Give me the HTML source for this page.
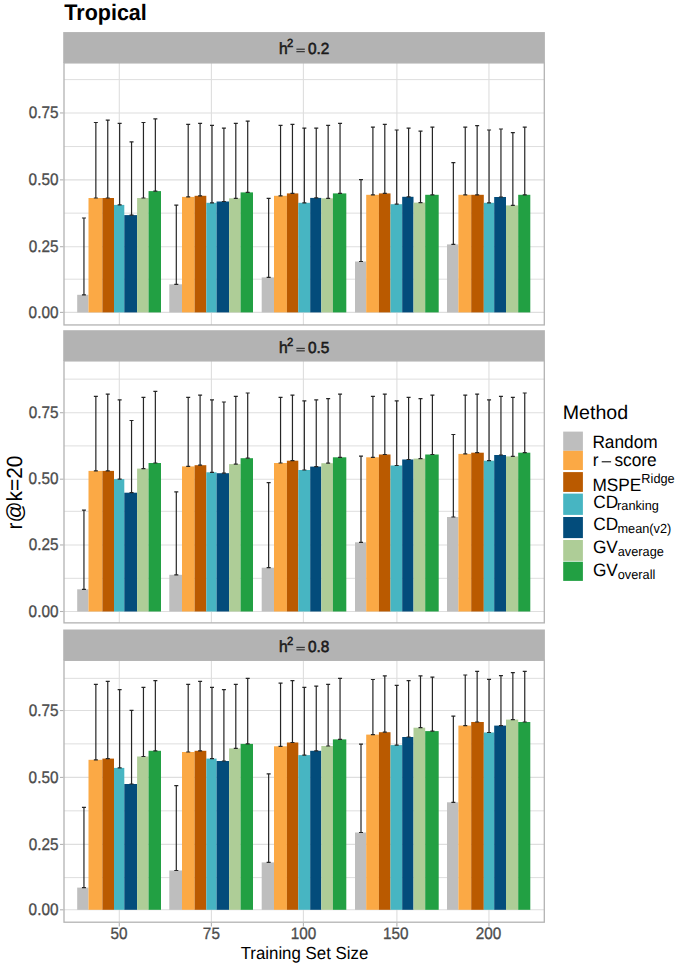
<!DOCTYPE html>
<html><head><meta charset="utf-8"><style>
html,body{margin:0;padding:0;background:#fff;}
svg{display:block;} text{text-rendering:geometricPrecision;}
</style></head><body>
<svg width="685" height="968" viewBox="0 0 685 968">
<rect x="0" y="0" width="685" height="968" fill="#FFFFFF"/>
<rect x="63.2" y="32.07" width="481.70" height="30.83" fill="#B3B3B3"/>
<line x1="64.0" x2="544.3" y1="279.20" y2="279.20" stroke="#DEDEDE" stroke-width="1"/>
<line x1="64.0" x2="544.3" y1="213.13" y2="213.13" stroke="#DEDEDE" stroke-width="1"/>
<line x1="64.0" x2="544.3" y1="146.55" y2="146.55" stroke="#DEDEDE" stroke-width="1"/>
<line x1="64.0" x2="544.3" y1="79.60" y2="79.60" stroke="#DEDEDE" stroke-width="1"/>
<line x1="64.0" x2="544.3" y1="312.40" y2="312.40" stroke="#DEDEDE" stroke-width="1.1"/>
<line x1="64.0" x2="544.3" y1="246.70" y2="246.70" stroke="#DEDEDE" stroke-width="1.1"/>
<line x1="64.0" x2="544.3" y1="179.86" y2="179.86" stroke="#DEDEDE" stroke-width="1.1"/>
<line x1="64.0" x2="544.3" y1="112.95" y2="112.95" stroke="#DEDEDE" stroke-width="1.1"/>
<line x1="119.30" x2="119.30" y1="62.9" y2="324.95" stroke="#DEDEDE" stroke-width="1.1"/>
<line x1="211.40" x2="211.40" y1="62.9" y2="324.95" stroke="#DEDEDE" stroke-width="1.1"/>
<line x1="303.40" x2="303.40" y1="62.9" y2="324.95" stroke="#DEDEDE" stroke-width="1.1"/>
<line x1="396.90" x2="396.90" y1="62.9" y2="324.95" stroke="#DEDEDE" stroke-width="1.1"/>
<line x1="488.95" x2="488.95" y1="62.9" y2="324.95" stroke="#DEDEDE" stroke-width="1.1"/>
<rect x="77.20" y="294.80" width="11.30" height="17.60" fill="#BEBEBE"/>
<rect x="88.50" y="198.00" width="13.90" height="114.40" fill="#FBA945"/>
<rect x="102.40" y="198.00" width="11.60" height="114.40" fill="#BA5A00"/>
<rect x="114.00" y="204.90" width="10.30" height="107.50" fill="#47B5C2"/>
<rect x="124.30" y="215.10" width="12.80" height="97.30" fill="#034C7B"/>
<rect x="137.10" y="198.00" width="11.45" height="114.40" fill="#AECD97"/>
<rect x="148.55" y="191.10" width="12.45" height="121.30" fill="#22A043"/>
<rect x="169.30" y="284.30" width="12.70" height="28.10" fill="#BEBEBE"/>
<rect x="182.00" y="196.90" width="12.60" height="115.50" fill="#FBA945"/>
<rect x="194.60" y="195.80" width="11.70" height="116.60" fill="#BA5A00"/>
<rect x="206.30" y="202.80" width="10.30" height="109.60" fill="#47B5C2"/>
<rect x="216.60" y="201.50" width="12.50" height="110.90" fill="#034C7B"/>
<rect x="229.10" y="198.30" width="11.50" height="114.10" fill="#AECD97"/>
<rect x="240.60" y="192.40" width="12.40" height="120.00" fill="#22A043"/>
<rect x="261.70" y="277.40" width="12.30" height="35.00" fill="#BEBEBE"/>
<rect x="274.00" y="195.80" width="12.90" height="116.60" fill="#FBA945"/>
<rect x="286.90" y="193.40" width="11.40" height="119.00" fill="#BA5A00"/>
<rect x="298.30" y="202.80" width="11.90" height="109.60" fill="#47B5C2"/>
<rect x="310.20" y="197.90" width="11.10" height="114.50" fill="#034C7B"/>
<rect x="321.30" y="198.30" width="11.60" height="114.10" fill="#AECD97"/>
<rect x="332.90" y="193.40" width="13.40" height="119.00" fill="#22A043"/>
<rect x="355.00" y="261.50" width="11.20" height="50.90" fill="#BEBEBE"/>
<rect x="366.20" y="194.80" width="12.70" height="117.60" fill="#FBA945"/>
<rect x="378.90" y="193.40" width="11.60" height="119.00" fill="#BA5A00"/>
<rect x="390.50" y="204.20" width="11.70" height="108.20" fill="#47B5C2"/>
<rect x="402.20" y="196.80" width="11.30" height="115.60" fill="#034C7B"/>
<rect x="413.50" y="202.60" width="11.70" height="109.80" fill="#AECD97"/>
<rect x="425.20" y="194.80" width="13.50" height="117.60" fill="#22A043"/>
<rect x="447.00" y="244.40" width="11.40" height="68.00" fill="#BEBEBE"/>
<rect x="458.40" y="194.80" width="12.80" height="117.60" fill="#FBA945"/>
<rect x="471.20" y="194.80" width="12.60" height="117.60" fill="#BA5A00"/>
<rect x="483.80" y="202.80" width="10.40" height="109.60" fill="#47B5C2"/>
<rect x="494.20" y="197.00" width="11.80" height="115.40" fill="#034C7B"/>
<rect x="506.00" y="205.40" width="12.20" height="107.00" fill="#AECD97"/>
<rect x="518.20" y="194.80" width="12.10" height="117.60" fill="#22A043"/>
<path d="M83.95 294.80V218.00M81.95 218.00H85.95M81.95 294.80H85.95" stroke="#262626" stroke-width="1.2" fill="none"/>
<path d="M95.85 198.00V122.50M93.85 122.50H97.85M93.85 198.00H97.85" stroke="#262626" stroke-width="1.2" fill="none"/>
<path d="M107.75 198.00V120.10M105.75 120.10H109.75M105.75 198.00H109.75" stroke="#262626" stroke-width="1.2" fill="none"/>
<path d="M119.65 204.90V123.40M117.65 123.40H121.65M117.65 204.90H121.65" stroke="#262626" stroke-width="1.2" fill="none"/>
<path d="M131.55 215.10V141.80M129.55 141.80H133.55M129.55 215.10H133.55" stroke="#262626" stroke-width="1.2" fill="none"/>
<path d="M143.45 198.00V122.50M141.45 122.50H145.45M141.45 198.00H145.45" stroke="#262626" stroke-width="1.2" fill="none"/>
<path d="M155.35 191.10V118.90M153.35 118.90H157.35M153.35 191.10H157.35" stroke="#262626" stroke-width="1.2" fill="none"/>
<path d="M176.30 284.30V205.20M174.30 205.20H178.30M174.30 284.30H178.30" stroke="#262626" stroke-width="1.2" fill="none"/>
<path d="M188.20 196.90V124.30M186.20 124.30H190.20M186.20 196.90H190.20" stroke="#262626" stroke-width="1.2" fill="none"/>
<path d="M200.10 195.80V123.30M198.10 123.30H202.10M198.10 195.80H202.10" stroke="#262626" stroke-width="1.2" fill="none"/>
<path d="M212.00 202.80V125.30M210.00 125.30H214.00M210.00 202.80H214.00" stroke="#262626" stroke-width="1.2" fill="none"/>
<path d="M223.90 201.50V128.10M221.90 128.10H225.90M221.90 201.50H225.90" stroke="#262626" stroke-width="1.2" fill="none"/>
<path d="M235.80 198.30V123.30M233.80 123.30H237.80M233.80 198.30H237.80" stroke="#262626" stroke-width="1.2" fill="none"/>
<path d="M247.70 192.40V121.20M245.70 121.20H249.70M245.70 192.40H249.70" stroke="#262626" stroke-width="1.2" fill="none"/>
<path d="M268.65 277.40V198.30M266.65 198.30H270.65M266.65 277.40H270.65" stroke="#262626" stroke-width="1.2" fill="none"/>
<path d="M280.55 195.80V125.30M278.55 125.30H282.55M278.55 195.80H282.55" stroke="#262626" stroke-width="1.2" fill="none"/>
<path d="M292.45 193.40V124.30M290.45 124.30H294.45M290.45 193.40H294.45" stroke="#262626" stroke-width="1.2" fill="none"/>
<path d="M304.35 202.80V128.10M302.35 128.10H306.35M302.35 202.80H306.35" stroke="#262626" stroke-width="1.2" fill="none"/>
<path d="M316.25 197.90V128.10M314.25 128.10H318.25M314.25 197.90H318.25" stroke="#262626" stroke-width="1.2" fill="none"/>
<path d="M328.15 198.30V125.30M326.15 125.30H330.15M326.15 198.30H330.15" stroke="#262626" stroke-width="1.2" fill="none"/>
<path d="M340.05 193.40V123.30M338.05 123.30H342.05M338.05 193.40H342.05" stroke="#262626" stroke-width="1.2" fill="none"/>
<path d="M361.00 261.50V179.70M359.00 179.70H363.00M359.00 261.50H363.00" stroke="#262626" stroke-width="1.2" fill="none"/>
<path d="M372.90 194.80V127.10M370.90 127.10H374.90M370.90 194.80H374.90" stroke="#262626" stroke-width="1.2" fill="none"/>
<path d="M384.80 193.40V124.30M382.80 124.30H386.80M382.80 193.40H386.80" stroke="#262626" stroke-width="1.2" fill="none"/>
<path d="M396.70 204.20V130.00M394.70 130.00H398.70M394.70 204.20H398.70" stroke="#262626" stroke-width="1.2" fill="none"/>
<path d="M408.60 196.80V128.10M406.60 128.10H410.60M406.60 196.80H410.60" stroke="#262626" stroke-width="1.2" fill="none"/>
<path d="M420.50 202.60V131.20M418.50 131.20H422.50M418.50 202.60H422.50" stroke="#262626" stroke-width="1.2" fill="none"/>
<path d="M432.40 194.80V127.10M430.40 127.10H434.40M430.40 194.80H434.40" stroke="#262626" stroke-width="1.2" fill="none"/>
<path d="M453.35 244.40V162.60M451.35 162.60H455.35M451.35 244.40H455.35" stroke="#262626" stroke-width="1.2" fill="none"/>
<path d="M465.25 194.80V127.10M463.25 127.10H467.25M463.25 194.80H467.25" stroke="#262626" stroke-width="1.2" fill="none"/>
<path d="M477.15 194.80V125.70M475.15 125.70H479.15M475.15 194.80H479.15" stroke="#262626" stroke-width="1.2" fill="none"/>
<path d="M489.05 202.80V130.00M487.05 130.00H491.05M487.05 202.80H491.05" stroke="#262626" stroke-width="1.2" fill="none"/>
<path d="M500.95 197.00V129.00M498.95 129.00H502.95M498.95 197.00H502.95" stroke="#262626" stroke-width="1.2" fill="none"/>
<path d="M512.85 205.40V132.60M510.85 132.60H514.85M510.85 205.40H514.85" stroke="#262626" stroke-width="1.2" fill="none"/>
<path d="M524.75 194.80V127.10M522.75 127.10H526.75M522.75 194.80H526.75" stroke="#262626" stroke-width="1.2" fill="none"/>
<rect x="64.0" y="62.9" width="480.30" height="262.05" fill="none" stroke="#B3B3B3" stroke-width="1.3"/>
<text transform="translate(279.12,53.80) scale(1,1.04)" font-family="&quot;Liberation Sans&quot;, sans-serif" font-size="15.6" fill="#1A1A1A" text-anchor="start" stroke="#1A1A1A" stroke-width="0.55">h</text>
<text transform="translate(287.04,46.60) scale(1,1.04)" font-family="&quot;Liberation Sans&quot;, sans-serif" font-size="11.2" fill="#1A1A1A" text-anchor="start" stroke="#1A1A1A" stroke-width="0.55">2</text>
<rect x="296.4" y="48.60" width="8.4" height="1.25" fill="#1A1A1A" opacity="0.8"/>
<rect x="296.4" y="51.00" width="8.4" height="1.25" fill="#1A1A1A" opacity="0.8"/>
<text transform="translate(307.90,53.80) scale(1,1.04)" font-family="&quot;Liberation Sans&quot;, sans-serif" font-size="15.4" fill="#1A1A1A" text-anchor="start" stroke="#1A1A1A" stroke-width="0.55">0.2</text>
<line x1="60" x2="63.5" y1="312.40" y2="312.40" stroke="#B3B3B3" stroke-width="1.1"/>
<text transform="translate(28.62,317.50) scale(1,1.09)" font-family="&quot;Liberation Sans&quot;, sans-serif" font-size="15.3" fill="#4D4D4D" text-anchor="start" stroke="#4D4D4D" stroke-width="0.3">0.00</text>
<line x1="60" x2="63.5" y1="246.70" y2="246.70" stroke="#B3B3B3" stroke-width="1.1"/>
<text transform="translate(28.66,251.80) scale(1,1.09)" font-family="&quot;Liberation Sans&quot;, sans-serif" font-size="15.3" fill="#4D4D4D" text-anchor="start" stroke="#4D4D4D" stroke-width="0.3">0.25</text>
<line x1="60" x2="63.5" y1="179.86" y2="179.86" stroke="#B3B3B3" stroke-width="1.1"/>
<text transform="translate(28.62,184.96) scale(1,1.09)" font-family="&quot;Liberation Sans&quot;, sans-serif" font-size="15.3" fill="#4D4D4D" text-anchor="start" stroke="#4D4D4D" stroke-width="0.3">0.50</text>
<line x1="60" x2="63.5" y1="112.95" y2="112.95" stroke="#B3B3B3" stroke-width="1.1"/>
<text transform="translate(28.66,118.05) scale(1,1.09)" font-family="&quot;Liberation Sans&quot;, sans-serif" font-size="15.3" fill="#4D4D4D" text-anchor="start" stroke="#4D4D4D" stroke-width="0.3">0.75</text>
<rect x="63.2" y="330.2" width="481.70" height="30.70" fill="#B3B3B3"/>
<line x1="64.0" x2="544.3" y1="578.30" y2="578.30" stroke="#DEDEDE" stroke-width="1"/>
<line x1="64.0" x2="544.3" y1="511.30" y2="511.30" stroke="#DEDEDE" stroke-width="1"/>
<line x1="64.0" x2="544.3" y1="445.90" y2="445.90" stroke="#DEDEDE" stroke-width="1"/>
<line x1="64.0" x2="544.3" y1="379.13" y2="379.13" stroke="#DEDEDE" stroke-width="1"/>
<line x1="64.0" x2="544.3" y1="611.50" y2="611.50" stroke="#DEDEDE" stroke-width="1.1"/>
<line x1="64.0" x2="544.3" y1="544.96" y2="544.96" stroke="#DEDEDE" stroke-width="1.1"/>
<line x1="64.0" x2="544.3" y1="479.20" y2="479.20" stroke="#DEDEDE" stroke-width="1.1"/>
<line x1="64.0" x2="544.3" y1="412.70" y2="412.70" stroke="#DEDEDE" stroke-width="1.1"/>
<line x1="119.30" x2="119.30" y1="360.9" y2="622.87" stroke="#DEDEDE" stroke-width="1.1"/>
<line x1="211.40" x2="211.40" y1="360.9" y2="622.87" stroke="#DEDEDE" stroke-width="1.1"/>
<line x1="303.40" x2="303.40" y1="360.9" y2="622.87" stroke="#DEDEDE" stroke-width="1.1"/>
<line x1="396.90" x2="396.90" y1="360.9" y2="622.87" stroke="#DEDEDE" stroke-width="1.1"/>
<line x1="488.95" x2="488.95" y1="360.9" y2="622.87" stroke="#DEDEDE" stroke-width="1.1"/>
<rect x="77.20" y="589.30" width="11.30" height="22.20" fill="#BEBEBE"/>
<rect x="88.50" y="470.90" width="13.90" height="140.60" fill="#FBA945"/>
<rect x="102.40" y="470.90" width="11.60" height="140.60" fill="#BA5A00"/>
<rect x="114.00" y="479.10" width="10.30" height="132.40" fill="#47B5C2"/>
<rect x="124.30" y="492.70" width="12.80" height="118.80" fill="#034C7B"/>
<rect x="137.10" y="468.60" width="11.45" height="142.90" fill="#AECD97"/>
<rect x="148.55" y="463.00" width="12.45" height="148.50" fill="#22A043"/>
<rect x="169.30" y="574.80" width="12.70" height="36.70" fill="#BEBEBE"/>
<rect x="182.00" y="466.40" width="12.60" height="145.10" fill="#FBA945"/>
<rect x="194.60" y="465.20" width="11.70" height="146.30" fill="#BA5A00"/>
<rect x="206.30" y="472.30" width="10.30" height="139.20" fill="#47B5C2"/>
<rect x="216.60" y="473.20" width="12.50" height="138.30" fill="#034C7B"/>
<rect x="229.10" y="464.10" width="11.50" height="147.40" fill="#AECD97"/>
<rect x="240.60" y="458.20" width="12.40" height="153.30" fill="#22A043"/>
<rect x="261.70" y="567.70" width="12.30" height="43.80" fill="#BEBEBE"/>
<rect x="274.00" y="463.00" width="12.90" height="148.50" fill="#FBA945"/>
<rect x="286.90" y="460.70" width="11.40" height="150.80" fill="#BA5A00"/>
<rect x="298.30" y="470.00" width="11.90" height="141.50" fill="#47B5C2"/>
<rect x="310.20" y="466.60" width="11.10" height="144.90" fill="#034C7B"/>
<rect x="321.30" y="463.20" width="11.60" height="148.30" fill="#AECD97"/>
<rect x="332.90" y="457.30" width="13.40" height="154.20" fill="#22A043"/>
<rect x="355.00" y="542.30" width="11.20" height="69.20" fill="#BEBEBE"/>
<rect x="366.20" y="457.30" width="12.70" height="154.20" fill="#FBA945"/>
<rect x="378.90" y="454.50" width="11.60" height="157.00" fill="#BA5A00"/>
<rect x="390.50" y="465.50" width="11.70" height="146.00" fill="#47B5C2"/>
<rect x="402.20" y="459.50" width="11.30" height="152.00" fill="#034C7B"/>
<rect x="413.50" y="458.60" width="11.70" height="152.90" fill="#AECD97"/>
<rect x="425.20" y="454.50" width="13.50" height="157.00" fill="#22A043"/>
<rect x="447.00" y="517.00" width="11.40" height="94.50" fill="#BEBEBE"/>
<rect x="458.40" y="453.90" width="12.80" height="157.60" fill="#FBA945"/>
<rect x="471.20" y="452.70" width="12.60" height="158.80" fill="#BA5A00"/>
<rect x="483.80" y="460.70" width="10.40" height="150.80" fill="#47B5C2"/>
<rect x="494.20" y="455.00" width="11.80" height="156.50" fill="#034C7B"/>
<rect x="506.00" y="456.40" width="12.20" height="155.10" fill="#AECD97"/>
<rect x="518.20" y="452.70" width="12.10" height="158.80" fill="#22A043"/>
<path d="M83.95 589.30V510.20M81.95 510.20H85.95M81.95 589.30H85.95" stroke="#262626" stroke-width="1.2" fill="none"/>
<path d="M95.85 470.90V396.40M93.85 396.40H97.85M93.85 470.90H97.85" stroke="#262626" stroke-width="1.2" fill="none"/>
<path d="M107.75 470.90V394.10M105.75 394.10H109.75M105.75 470.90H109.75" stroke="#262626" stroke-width="1.2" fill="none"/>
<path d="M119.65 479.10V399.80M117.65 399.80H121.65M117.65 479.10H121.65" stroke="#262626" stroke-width="1.2" fill="none"/>
<path d="M131.55 492.70V420.50M129.55 420.50H133.55M129.55 492.70H133.55" stroke="#262626" stroke-width="1.2" fill="none"/>
<path d="M143.45 468.60V397.30M141.45 397.30H145.45M141.45 468.60H145.45" stroke="#262626" stroke-width="1.2" fill="none"/>
<path d="M155.35 463.00V391.40M153.35 391.40H157.35M153.35 463.00H157.35" stroke="#262626" stroke-width="1.2" fill="none"/>
<path d="M176.30 574.80V491.80M174.30 491.80H178.30M174.30 574.80H178.30" stroke="#262626" stroke-width="1.2" fill="none"/>
<path d="M188.20 466.40V397.30M186.20 397.30H190.20M186.20 466.40H190.20" stroke="#262626" stroke-width="1.2" fill="none"/>
<path d="M200.10 465.20V395.20M198.10 395.20H202.10M198.10 465.20H202.10" stroke="#262626" stroke-width="1.2" fill="none"/>
<path d="M212.00 472.30V399.80M210.00 399.80H214.00M210.00 472.30H214.00" stroke="#262626" stroke-width="1.2" fill="none"/>
<path d="M223.90 473.20V402.00M221.90 402.00H225.90M221.90 473.20H225.90" stroke="#262626" stroke-width="1.2" fill="none"/>
<path d="M235.80 464.10V396.40M233.80 396.40H237.80M233.80 464.10H237.80" stroke="#262626" stroke-width="1.2" fill="none"/>
<path d="M247.70 458.20V393.00M245.70 393.00H249.70M245.70 458.20H249.70" stroke="#262626" stroke-width="1.2" fill="none"/>
<path d="M268.65 567.70V482.70M266.65 482.70H270.65M266.65 567.70H270.65" stroke="#262626" stroke-width="1.2" fill="none"/>
<path d="M280.55 463.00V397.30M278.55 397.30H282.55M278.55 463.00H282.55" stroke="#262626" stroke-width="1.2" fill="none"/>
<path d="M292.45 460.70V395.20M290.45 395.20H294.45M290.45 460.70H294.45" stroke="#262626" stroke-width="1.2" fill="none"/>
<path d="M304.35 470.00V400.90M302.35 400.90H306.35M302.35 470.00H306.35" stroke="#262626" stroke-width="1.2" fill="none"/>
<path d="M316.25 466.60V399.80M314.25 399.80H318.25M314.25 466.60H318.25" stroke="#262626" stroke-width="1.2" fill="none"/>
<path d="M328.15 463.20V398.60M326.15 398.60H330.15M326.15 463.20H330.15" stroke="#262626" stroke-width="1.2" fill="none"/>
<path d="M340.05 457.30V394.10M338.05 394.10H342.05M338.05 457.30H342.05" stroke="#262626" stroke-width="1.2" fill="none"/>
<path d="M361.00 542.30V456.10M359.00 456.10H363.00M359.00 542.30H363.00" stroke="#262626" stroke-width="1.2" fill="none"/>
<path d="M372.90 457.30V396.40M370.90 396.40H374.90M370.90 457.30H374.90" stroke="#262626" stroke-width="1.2" fill="none"/>
<path d="M384.80 454.50V394.10M382.80 394.10H386.80M382.80 454.50H386.80" stroke="#262626" stroke-width="1.2" fill="none"/>
<path d="M396.70 465.50V400.90M394.70 400.90H398.70M394.70 465.50H398.70" stroke="#262626" stroke-width="1.2" fill="none"/>
<path d="M408.60 459.50V397.30M406.60 397.30H410.60M406.60 459.50H410.60" stroke="#262626" stroke-width="1.2" fill="none"/>
<path d="M420.50 458.60V398.60M418.50 398.60H422.50M418.50 458.60H422.50" stroke="#262626" stroke-width="1.2" fill="none"/>
<path d="M432.40 454.50V395.20M430.40 395.20H434.40M430.40 454.50H434.40" stroke="#262626" stroke-width="1.2" fill="none"/>
<path d="M453.35 517.00V434.50M451.35 434.50H455.35M451.35 517.00H455.35" stroke="#262626" stroke-width="1.2" fill="none"/>
<path d="M465.25 453.90V395.20M463.25 395.20H467.25M463.25 453.90H467.25" stroke="#262626" stroke-width="1.2" fill="none"/>
<path d="M477.15 452.70V394.10M475.15 394.10H479.15M475.15 452.70H479.15" stroke="#262626" stroke-width="1.2" fill="none"/>
<path d="M489.05 460.70V399.80M487.05 399.80H491.05M487.05 460.70H491.05" stroke="#262626" stroke-width="1.2" fill="none"/>
<path d="M500.95 455.00V396.40M498.95 396.40H502.95M498.95 455.00H502.95" stroke="#262626" stroke-width="1.2" fill="none"/>
<path d="M512.85 456.40V397.30M510.85 397.30H514.85M510.85 456.40H514.85" stroke="#262626" stroke-width="1.2" fill="none"/>
<path d="M524.75 452.70V393.00M522.75 393.00H526.75M522.75 452.70H526.75" stroke="#262626" stroke-width="1.2" fill="none"/>
<rect x="64.0" y="360.9" width="480.30" height="261.97" fill="none" stroke="#B3B3B3" stroke-width="1.3"/>
<text transform="translate(279.12,353.00) scale(1,1.04)" font-family="&quot;Liberation Sans&quot;, sans-serif" font-size="15.6" fill="#1A1A1A" text-anchor="start" stroke="#1A1A1A" stroke-width="0.55">h</text>
<text transform="translate(287.04,345.80) scale(1,1.04)" font-family="&quot;Liberation Sans&quot;, sans-serif" font-size="11.2" fill="#1A1A1A" text-anchor="start" stroke="#1A1A1A" stroke-width="0.55">2</text>
<rect x="296.4" y="347.80" width="8.4" height="1.25" fill="#1A1A1A" opacity="0.8"/>
<rect x="296.4" y="350.20" width="8.4" height="1.25" fill="#1A1A1A" opacity="0.8"/>
<text transform="translate(307.90,353.00) scale(1,1.04)" font-family="&quot;Liberation Sans&quot;, sans-serif" font-size="15.4" fill="#1A1A1A" text-anchor="start" stroke="#1A1A1A" stroke-width="0.55">0.5</text>
<line x1="60" x2="63.5" y1="611.50" y2="611.50" stroke="#B3B3B3" stroke-width="1.1"/>
<text transform="translate(28.62,616.60) scale(1,1.09)" font-family="&quot;Liberation Sans&quot;, sans-serif" font-size="15.3" fill="#4D4D4D" text-anchor="start" stroke="#4D4D4D" stroke-width="0.3">0.00</text>
<line x1="60" x2="63.5" y1="544.96" y2="544.96" stroke="#B3B3B3" stroke-width="1.1"/>
<text transform="translate(28.66,550.06) scale(1,1.09)" font-family="&quot;Liberation Sans&quot;, sans-serif" font-size="15.3" fill="#4D4D4D" text-anchor="start" stroke="#4D4D4D" stroke-width="0.3">0.25</text>
<line x1="60" x2="63.5" y1="479.20" y2="479.20" stroke="#B3B3B3" stroke-width="1.1"/>
<text transform="translate(28.62,484.30) scale(1,1.09)" font-family="&quot;Liberation Sans&quot;, sans-serif" font-size="15.3" fill="#4D4D4D" text-anchor="start" stroke="#4D4D4D" stroke-width="0.3">0.50</text>
<line x1="60" x2="63.5" y1="412.70" y2="412.70" stroke="#B3B3B3" stroke-width="1.1"/>
<text transform="translate(28.66,417.80) scale(1,1.09)" font-family="&quot;Liberation Sans&quot;, sans-serif" font-size="15.3" fill="#4D4D4D" text-anchor="start" stroke="#4D4D4D" stroke-width="0.3">0.75</text>
<rect x="63.2" y="629.5" width="481.70" height="30.80" fill="#B3B3B3"/>
<line x1="64.0" x2="544.3" y1="877.60" y2="877.60" stroke="#DEDEDE" stroke-width="1"/>
<line x1="64.0" x2="544.3" y1="810.85" y2="810.85" stroke="#DEDEDE" stroke-width="1"/>
<line x1="64.0" x2="544.3" y1="743.86" y2="743.86" stroke="#DEDEDE" stroke-width="1"/>
<line x1="64.0" x2="544.3" y1="678.33" y2="678.33" stroke="#DEDEDE" stroke-width="1"/>
<line x1="64.0" x2="544.3" y1="909.80" y2="909.80" stroke="#DEDEDE" stroke-width="1.1"/>
<line x1="64.0" x2="544.3" y1="844.40" y2="844.40" stroke="#DEDEDE" stroke-width="1.1"/>
<line x1="64.0" x2="544.3" y1="777.40" y2="777.40" stroke="#DEDEDE" stroke-width="1.1"/>
<line x1="64.0" x2="544.3" y1="710.56" y2="710.56" stroke="#DEDEDE" stroke-width="1.1"/>
<line x1="119.30" x2="119.30" y1="660.3" y2="922.2" stroke="#DEDEDE" stroke-width="1.1"/>
<line x1="211.40" x2="211.40" y1="660.3" y2="922.2" stroke="#DEDEDE" stroke-width="1.1"/>
<line x1="303.40" x2="303.40" y1="660.3" y2="922.2" stroke="#DEDEDE" stroke-width="1.1"/>
<line x1="396.90" x2="396.90" y1="660.3" y2="922.2" stroke="#DEDEDE" stroke-width="1.1"/>
<line x1="488.95" x2="488.95" y1="660.3" y2="922.2" stroke="#DEDEDE" stroke-width="1.1"/>
<rect x="77.20" y="887.60" width="11.30" height="22.20" fill="#BEBEBE"/>
<rect x="88.50" y="759.80" width="13.90" height="150.00" fill="#FBA945"/>
<rect x="102.40" y="758.60" width="11.60" height="151.20" fill="#BA5A00"/>
<rect x="114.00" y="767.90" width="10.30" height="141.90" fill="#47B5C2"/>
<rect x="124.30" y="784.00" width="12.80" height="125.80" fill="#034C7B"/>
<rect x="137.10" y="756.50" width="11.45" height="153.30" fill="#AECD97"/>
<rect x="148.55" y="750.80" width="12.45" height="159.00" fill="#22A043"/>
<rect x="169.30" y="870.50" width="12.70" height="39.30" fill="#BEBEBE"/>
<rect x="182.00" y="752.00" width="12.60" height="157.80" fill="#FBA945"/>
<rect x="194.60" y="750.80" width="11.70" height="159.00" fill="#BA5A00"/>
<rect x="206.30" y="758.60" width="10.30" height="151.20" fill="#47B5C2"/>
<rect x="216.60" y="761.00" width="12.50" height="148.80" fill="#034C7B"/>
<rect x="229.10" y="748.40" width="11.50" height="161.40" fill="#AECD97"/>
<rect x="240.60" y="743.90" width="12.40" height="165.90" fill="#22A043"/>
<rect x="261.70" y="862.40" width="12.30" height="47.40" fill="#BEBEBE"/>
<rect x="274.00" y="746.30" width="12.90" height="163.50" fill="#FBA945"/>
<rect x="286.90" y="742.50" width="11.40" height="167.30" fill="#BA5A00"/>
<rect x="298.30" y="755.10" width="11.90" height="154.70" fill="#47B5C2"/>
<rect x="310.20" y="750.80" width="11.10" height="159.00" fill="#034C7B"/>
<rect x="321.30" y="746.00" width="11.60" height="163.80" fill="#AECD97"/>
<rect x="332.90" y="739.40" width="13.40" height="170.40" fill="#22A043"/>
<rect x="355.00" y="832.50" width="11.20" height="77.30" fill="#BEBEBE"/>
<rect x="366.20" y="734.60" width="12.70" height="175.20" fill="#FBA945"/>
<rect x="378.90" y="732.20" width="11.60" height="177.60" fill="#BA5A00"/>
<rect x="390.50" y="745.10" width="11.70" height="164.70" fill="#47B5C2"/>
<rect x="402.20" y="737.00" width="11.30" height="172.80" fill="#034C7B"/>
<rect x="413.50" y="727.70" width="11.70" height="182.10" fill="#AECD97"/>
<rect x="425.20" y="731.10" width="13.50" height="178.70" fill="#22A043"/>
<rect x="447.00" y="802.30" width="11.40" height="107.50" fill="#BEBEBE"/>
<rect x="458.40" y="725.60" width="12.80" height="184.20" fill="#FBA945"/>
<rect x="471.20" y="722.00" width="12.60" height="187.80" fill="#BA5A00"/>
<rect x="483.80" y="732.50" width="10.40" height="177.30" fill="#47B5C2"/>
<rect x="494.20" y="725.60" width="11.80" height="184.20" fill="#034C7B"/>
<rect x="506.00" y="719.60" width="12.20" height="190.20" fill="#AECD97"/>
<rect x="518.20" y="722.00" width="12.10" height="187.80" fill="#22A043"/>
<path d="M83.95 887.60V807.30M81.95 807.30H85.95M81.95 887.60H85.95" stroke="#262626" stroke-width="1.2" fill="none"/>
<path d="M95.85 759.80V684.30M93.85 684.30H97.85M93.85 759.80H97.85" stroke="#262626" stroke-width="1.2" fill="none"/>
<path d="M107.75 758.60V681.40M105.75 681.40H109.75M105.75 758.60H109.75" stroke="#262626" stroke-width="1.2" fill="none"/>
<path d="M119.65 767.90V689.70M117.65 689.70H121.65M117.65 767.90H121.65" stroke="#262626" stroke-width="1.2" fill="none"/>
<path d="M131.55 784.00V710.40M129.55 710.40H133.55M129.55 784.00H133.55" stroke="#262626" stroke-width="1.2" fill="none"/>
<path d="M143.45 756.50V687.30M141.45 687.30H145.45M141.45 756.50H145.45" stroke="#262626" stroke-width="1.2" fill="none"/>
<path d="M155.35 750.80V680.70M153.35 680.70H157.35M153.35 750.80H157.35" stroke="#262626" stroke-width="1.2" fill="none"/>
<path d="M176.30 870.50V785.70M174.30 785.70H178.30M174.30 870.50H178.30" stroke="#262626" stroke-width="1.2" fill="none"/>
<path d="M188.20 752.00V684.30M186.20 684.30H190.20M186.20 752.00H190.20" stroke="#262626" stroke-width="1.2" fill="none"/>
<path d="M200.10 750.80V681.40M198.10 681.40H202.10M198.10 750.80H202.10" stroke="#262626" stroke-width="1.2" fill="none"/>
<path d="M212.00 758.60V687.30M210.00 687.30H214.00M210.00 758.60H214.00" stroke="#262626" stroke-width="1.2" fill="none"/>
<path d="M223.90 761.00V689.70M221.90 689.70H225.90M221.90 761.00H225.90" stroke="#262626" stroke-width="1.2" fill="none"/>
<path d="M235.80 748.40V684.30M233.80 684.30H237.80M233.80 748.40H237.80" stroke="#262626" stroke-width="1.2" fill="none"/>
<path d="M247.70 743.90V678.30M245.70 678.30H249.70M245.70 743.90H249.70" stroke="#262626" stroke-width="1.2" fill="none"/>
<path d="M268.65 862.40V773.80M266.65 773.80H270.65M266.65 862.40H270.65" stroke="#262626" stroke-width="1.2" fill="none"/>
<path d="M280.55 746.30V683.10M278.55 683.10H282.55M278.55 746.30H282.55" stroke="#262626" stroke-width="1.2" fill="none"/>
<path d="M292.45 742.50V680.70M290.45 680.70H294.45M290.45 742.50H294.45" stroke="#262626" stroke-width="1.2" fill="none"/>
<path d="M304.35 755.10V687.30M302.35 687.30H306.35M302.35 755.10H306.35" stroke="#262626" stroke-width="1.2" fill="none"/>
<path d="M316.25 750.80V686.20M314.25 686.20H318.25M314.25 750.80H318.25" stroke="#262626" stroke-width="1.2" fill="none"/>
<path d="M328.15 746.00V684.30M326.15 684.30H330.15M326.15 746.00H330.15" stroke="#262626" stroke-width="1.2" fill="none"/>
<path d="M340.05 739.40V678.30M338.05 678.30H342.05M338.05 739.40H342.05" stroke="#262626" stroke-width="1.2" fill="none"/>
<path d="M361.00 832.50V744.10M359.00 744.10H363.00M359.00 832.50H363.00" stroke="#262626" stroke-width="1.2" fill="none"/>
<path d="M372.90 734.60V679.50M370.90 679.50H374.90M370.90 734.60H374.90" stroke="#262626" stroke-width="1.2" fill="none"/>
<path d="M384.80 732.20V675.90M382.80 675.90H386.80M382.80 732.20H386.80" stroke="#262626" stroke-width="1.2" fill="none"/>
<path d="M396.70 745.10V685.40M394.70 685.40H398.70M394.70 745.10H398.70" stroke="#262626" stroke-width="1.2" fill="none"/>
<path d="M408.60 737.00V680.70M406.60 680.70H410.60M406.60 737.00H410.60" stroke="#262626" stroke-width="1.2" fill="none"/>
<path d="M420.50 727.70V675.90M418.50 675.90H422.50M418.50 727.70H422.50" stroke="#262626" stroke-width="1.2" fill="none"/>
<path d="M432.40 731.10V677.10M430.40 677.10H434.40M430.40 731.10H434.40" stroke="#262626" stroke-width="1.2" fill="none"/>
<path d="M453.35 802.30V716.10M451.35 716.10H455.35M451.35 802.30H455.35" stroke="#262626" stroke-width="1.2" fill="none"/>
<path d="M465.25 725.60V675.00M463.25 675.00H467.25M463.25 725.60H467.25" stroke="#262626" stroke-width="1.2" fill="none"/>
<path d="M477.15 722.00V671.40M475.15 671.40H479.15M475.15 722.00H479.15" stroke="#262626" stroke-width="1.2" fill="none"/>
<path d="M489.05 732.50V679.30M487.05 679.30H491.05M487.05 732.50H491.05" stroke="#262626" stroke-width="1.2" fill="none"/>
<path d="M500.95 725.60V675.70M498.95 675.70H502.95M498.95 725.60H502.95" stroke="#262626" stroke-width="1.2" fill="none"/>
<path d="M512.85 719.60V672.60M510.85 672.60H514.85M510.85 719.60H514.85" stroke="#262626" stroke-width="1.2" fill="none"/>
<path d="M524.75 722.00V671.40M522.75 671.40H526.75M522.75 722.00H526.75" stroke="#262626" stroke-width="1.2" fill="none"/>
<rect x="64.0" y="660.3" width="480.30" height="261.90" fill="none" stroke="#B3B3B3" stroke-width="1.3"/>
<text transform="translate(279.12,652.00) scale(1,1.04)" font-family="&quot;Liberation Sans&quot;, sans-serif" font-size="15.6" fill="#1A1A1A" text-anchor="start" stroke="#1A1A1A" stroke-width="0.55">h</text>
<text transform="translate(287.04,644.80) scale(1,1.04)" font-family="&quot;Liberation Sans&quot;, sans-serif" font-size="11.2" fill="#1A1A1A" text-anchor="start" stroke="#1A1A1A" stroke-width="0.55">2</text>
<rect x="296.4" y="646.80" width="8.4" height="1.25" fill="#1A1A1A" opacity="0.8"/>
<rect x="296.4" y="649.20" width="8.4" height="1.25" fill="#1A1A1A" opacity="0.8"/>
<text transform="translate(307.90,652.00) scale(1,1.04)" font-family="&quot;Liberation Sans&quot;, sans-serif" font-size="15.4" fill="#1A1A1A" text-anchor="start" stroke="#1A1A1A" stroke-width="0.55">0.8</text>
<line x1="60" x2="63.5" y1="909.80" y2="909.80" stroke="#B3B3B3" stroke-width="1.1"/>
<text transform="translate(28.62,914.90) scale(1,1.09)" font-family="&quot;Liberation Sans&quot;, sans-serif" font-size="15.3" fill="#4D4D4D" text-anchor="start" stroke="#4D4D4D" stroke-width="0.3">0.00</text>
<line x1="60" x2="63.5" y1="844.40" y2="844.40" stroke="#B3B3B3" stroke-width="1.1"/>
<text transform="translate(28.66,849.50) scale(1,1.09)" font-family="&quot;Liberation Sans&quot;, sans-serif" font-size="15.3" fill="#4D4D4D" text-anchor="start" stroke="#4D4D4D" stroke-width="0.3">0.25</text>
<line x1="60" x2="63.5" y1="777.40" y2="777.40" stroke="#B3B3B3" stroke-width="1.1"/>
<text transform="translate(28.62,782.50) scale(1,1.09)" font-family="&quot;Liberation Sans&quot;, sans-serif" font-size="15.3" fill="#4D4D4D" text-anchor="start" stroke="#4D4D4D" stroke-width="0.3">0.50</text>
<line x1="60" x2="63.5" y1="710.56" y2="710.56" stroke="#B3B3B3" stroke-width="1.1"/>
<text transform="translate(28.66,715.66) scale(1,1.09)" font-family="&quot;Liberation Sans&quot;, sans-serif" font-size="15.3" fill="#4D4D4D" text-anchor="start" stroke="#4D4D4D" stroke-width="0.3">0.75</text>
<line x1="119.30" x2="119.30" y1="923" y2="926.5" stroke="#B3B3B3" stroke-width="1.1"/>
<text transform="translate(110.58,939.20) scale(1,1.08)" font-family="&quot;Liberation Sans&quot;, sans-serif" font-size="15.3" fill="#4D4D4D" text-anchor="start" stroke="#4D4D4D" stroke-width="0.3">50</text>
<line x1="211.40" x2="211.40" y1="923" y2="926.5" stroke="#B3B3B3" stroke-width="1.1"/>
<text transform="translate(202.87,939.20) scale(1,1.08)" font-family="&quot;Liberation Sans&quot;, sans-serif" font-size="15.3" fill="#4D4D4D" text-anchor="start" stroke="#4D4D4D" stroke-width="0.3">75</text>
<line x1="303.40" x2="303.40" y1="923" y2="926.5" stroke="#B3B3B3" stroke-width="1.1"/>
<text transform="translate(290.75,939.20) scale(1,1.08)" font-family="&quot;Liberation Sans&quot;, sans-serif" font-size="15.3" fill="#4D4D4D" text-anchor="start" stroke="#4D4D4D" stroke-width="0.3">100</text>
<line x1="396.90" x2="396.90" y1="923" y2="926.5" stroke="#B3B3B3" stroke-width="1.1"/>
<text transform="translate(383.10,939.20) scale(1,1.08)" font-family="&quot;Liberation Sans&quot;, sans-serif" font-size="15.3" fill="#4D4D4D" text-anchor="start" stroke="#4D4D4D" stroke-width="0.3">150</text>
<line x1="488.95" x2="488.95" y1="923" y2="926.5" stroke="#B3B3B3" stroke-width="1.1"/>
<text transform="translate(475.65,939.20) scale(1,1.08)" font-family="&quot;Liberation Sans&quot;, sans-serif" font-size="15.3" fill="#4D4D4D" text-anchor="start" stroke="#4D4D4D" stroke-width="0.3">200</text>
<text transform="translate(240.63,958.70) scale(1,1.04)" font-family="&quot;Liberation Sans&quot;, sans-serif" font-size="16.85" fill="#000" text-anchor="start">Training Set Size</text>
<text transform="translate(21.8,529.54) rotate(-90) scale(1,1.05)" font-family="&quot;Liberation Sans&quot;, sans-serif" font-size="20.85" fill="#000">r@k=20</text>
<text transform="translate(64.36,20.20) scale(1,1.04)" font-family="&quot;Liberation Sans&quot;, sans-serif" font-size="21.5" font-weight="bold" fill="#000" text-anchor="start">Tropical</text>
<text transform="translate(562.79,418.60) scale(1,1.0)" font-family="&quot;Liberation Sans&quot;, sans-serif" font-size="19.6" fill="#000" text-anchor="start">Method</text>
<rect x="563.2" y="431.6" width="19.7" height="19.20" fill="#BEBEBE"/>
<rect x="563.2" y="450.8" width="19.7" height="19.20" fill="#FBA945"/>
<rect x="563.2" y="472.1" width="19.7" height="19.80" fill="#BA5A00"/>
<rect x="563.2" y="493.6" width="19.7" height="21.30" fill="#47B5C2"/>
<rect x="563.2" y="517.0" width="19.7" height="21.10" fill="#034C7B"/>
<rect x="563.2" y="540.0" width="19.7" height="20.90" fill="#AECD97"/>
<rect x="563.2" y="561.7" width="19.7" height="19.20" fill="#22A043"/>
<text transform="translate(592.38,447.50) scale(1,1.04)" font-family="&quot;Liberation Sans&quot;, sans-serif" font-size="17.3" fill="#000" text-anchor="start">Random</text>
<text transform="translate(592.65,465.60) scale(1,1.04)" font-family="&quot;Liberation Sans&quot;, sans-serif" font-size="17.3" fill="#000" text-anchor="start">r</text>
<rect x="601.7" y="461.1" width="9.4" height="1.3" fill="#333"/>
<text transform="translate(614.46,465.60) scale(1,1.04)" font-family="&quot;Liberation Sans&quot;, sans-serif" font-size="17.3" fill="#000" text-anchor="start">score</text>
<text transform="translate(592.38,491.00) scale(1,1.04)" font-family="&quot;Liberation Sans&quot;, sans-serif" font-size="17.3" fill="#000" text-anchor="start">MSPE</text>
<text transform="translate(641.35,483.10) scale(1,1.04)" font-family="&quot;Liberation Sans&quot;, sans-serif" font-size="12.75" fill="#000" text-anchor="start">Ridge</text>
<text transform="translate(593.32,508.35) scale(1,1.04)" font-family="&quot;Liberation Sans&quot;, sans-serif" font-size="17.3" fill="#000" text-anchor="start">CD</text>
<text transform="translate(617.05,510.40) scale(1,1.04)" font-family="&quot;Liberation Sans&quot;, sans-serif" font-size="12.75" fill="#000" text-anchor="start">ranking</text>
<text transform="translate(593.32,530.30) scale(1,1.04)" font-family="&quot;Liberation Sans&quot;, sans-serif" font-size="17.3" fill="#000" text-anchor="start">CD</text>
<text transform="translate(617.45,532.70) scale(1,1.04)" font-family="&quot;Liberation Sans&quot;, sans-serif" font-size="12.75" fill="#000" text-anchor="start">mean(v2)</text>
<text transform="translate(592.93,553.10) scale(1,1.04)" font-family="&quot;Liberation Sans&quot;, sans-serif" font-size="17.3" fill="#000" text-anchor="start">GV</text>
<text transform="translate(617.76,556.30) scale(1,1.04)" font-family="&quot;Liberation Sans&quot;, sans-serif" font-size="12.75" fill="#000" text-anchor="start">average</text>
<text transform="translate(592.93,576.00) scale(1,1.04)" font-family="&quot;Liberation Sans&quot;, sans-serif" font-size="17.3" fill="#000" text-anchor="start">GV</text>
<text transform="translate(617.76,579.40) scale(1,1.04)" font-family="&quot;Liberation Sans&quot;, sans-serif" font-size="12.75" fill="#000" text-anchor="start">overall</text>
</svg>
</body></html>
